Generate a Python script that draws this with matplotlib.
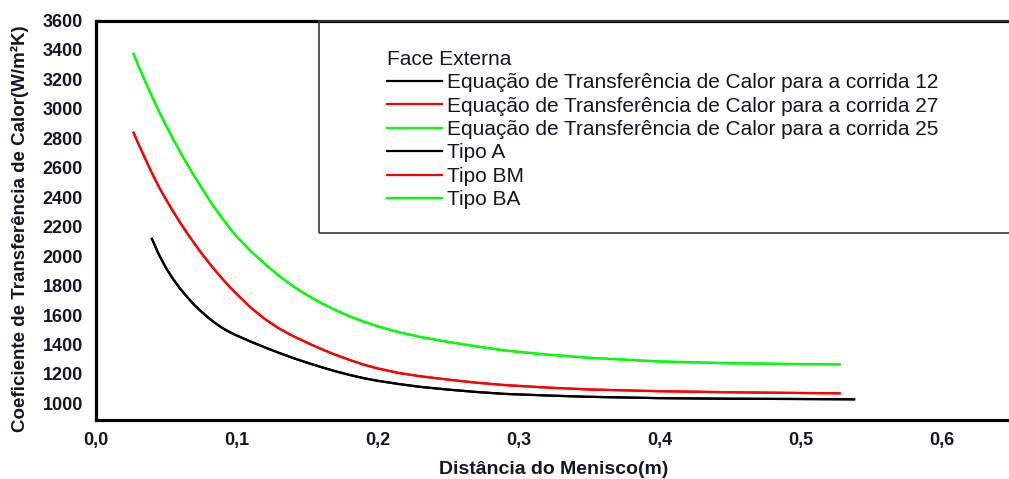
import matplotlib
matplotlib.use('Agg')
import matplotlib.pyplot as plt
from matplotlib.patches import Rectangle
from matplotlib.ticker import FuncFormatter, MultipleLocator

# ---- data ----
dist_a = [0.040, 0.045, 0.050, 0.055, 0.060, 0.065, 0.070, 0.075, 0.080, 0.085,
          0.090, 0.095, 0.100, 0.110, 0.120, 0.130, 0.140, 0.150, 0.160, 0.170,
          0.180, 0.190, 0.200, 0.215, 0.230, 0.250, 0.270, 0.290, 0.320, 0.350,
          0.400, 0.450, 0.500, 0.538]
h_a = [2118, 2010, 1920, 1845, 1780, 1722, 1670, 1624, 1582, 1545,
       1512, 1485, 1462, 1420, 1381, 1344, 1309, 1277, 1247, 1219,
       1194, 1172, 1154, 1132, 1113, 1094, 1078, 1065, 1054, 1045,
       1036, 1032, 1030, 1028]

dist_bm = [0.027, 0.030, 0.035, 0.040, 0.045, 0.050, 0.055, 0.060, 0.065, 0.070,
           0.075, 0.080, 0.085, 0.090, 0.095, 0.100, 0.110, 0.120, 0.130, 0.140,
           0.150, 0.160, 0.170, 0.180, 0.190, 0.200, 0.215, 0.230, 0.250, 0.270,
           0.290, 0.320, 0.350, 0.400, 0.450, 0.500, 0.5277]
h_bm = [2838, 2772, 2667, 2565, 2470, 2385, 2305, 2228, 2156, 2088,
        2022, 1960, 1902, 1846, 1793, 1744, 1652, 1574, 1510, 1458,
        1413, 1370, 1331, 1296, 1264, 1238, 1207, 1185, 1162, 1141,
        1125, 1108, 1095, 1083, 1076, 1071, 1069]

dist_ba = [0.027, 0.030, 0.035, 0.040, 0.045, 0.050, 0.055, 0.060, 0.065, 0.070,
           0.075, 0.080, 0.085, 0.090, 0.095, 0.100, 0.110, 0.120, 0.130, 0.140,
           0.150, 0.160, 0.170, 0.180, 0.190, 0.200, 0.215, 0.230, 0.250, 0.270,
           0.290, 0.320, 0.350, 0.400, 0.450, 0.500, 0.5277]
h_ba = [3373, 3303, 3192, 3085, 2983, 2887, 2796, 2708, 2624, 2545,
        2468, 2393, 2322, 2255, 2193, 2135, 2035, 1948, 1868, 1797,
        1736, 1682, 1635, 1593, 1556, 1524, 1484, 1452, 1418, 1388,
        1360, 1332, 1310, 1285, 1273, 1267, 1265]

eq_labels = ["Equação de Transferência de Calor para a corrida 12",
             "Equação de Transferência de Calor para a corrida 27",
             "Equação de Transferência de Calor para a corrida 25"]
tipo_labels = ["Tipo A", "Tipo BM", "Tipo BA"]
legend_title = "Face Externa"
x_label = "Distância do Menisco(m)"
y_label = "Coeficiente de Transferência de Calor(W/m²K)"

colors = ["#000000", "#ff0000", "#00ff00"]

plt.rcParams['font.family'] = ['Liberation Sans', 'DejaVu Sans']

W, H = 1009, 479
fig = plt.figure(figsize=(W / 100, H / 100), dpi=100)
L, R, T, B = 95.5, 1009, 20.5, 419.5
ax = fig.add_axes([L / W, 1 - B / H, (R - L) / W, (B - T) / H])

series = [(dist_a, h_a), (dist_bm, h_bm), (dist_ba, h_ba)]
eq_lines, tipo_lines = [], []
for (xs, ys), c, lab in zip(series, colors, eq_labels):
    ln, = ax.plot(xs, ys, color=c, lw=1.6, label=lab, solid_joinstyle='round')
    eq_lines.append(ln)
for (xs, ys), c, lab in zip(series, colors, tipo_labels):
    ln, = ax.plot(xs, ys, color=c, lw=1.6, label=lab, solid_joinstyle='round')
    tipo_lines.append(ln)

ax.set_xlim(0, (R - L) / 1410.0)
ax.set_ylim(891, 3600)
ax.xaxis.set_major_locator(MultipleLocator(0.1))
ax.xaxis.set_major_formatter(FuncFormatter(lambda v, p: f"{v:.1f}".replace('.', ',')))
ax.yaxis.set_major_formatter(FuncFormatter(lambda v, p: f"{int(round(v))}"))
ax.set_yticks([1000 + 200 * i for i in range(14)])

tick_color = '#14142a'
ax.tick_params(axis='both', length=0, labelsize=13, colors=tick_color)
ax.tick_params(axis='y', pad=9)
ax.tick_params(axis='x', pad=9)
for t in ax.get_xticklabels() + ax.get_yticklabels():
    t.set_fontweight('bold')

for s in ['left', 'top', 'bottom']:
    ax.spines[s].set_linewidth(2.3)
    ax.spines[s].set_color('black')
ax.spines['right'].set_visible(False)

ax.set_xlabel(x_label, fontsize=14, fontweight='bold', color=tick_color)
ax.xaxis.set_label_coords((554 - L) / (R - L), -(470 - B) / (B - T))
ax.xaxis.label.set_va('center')
ax.set_ylabel(y_label, fontsize=13.5, fontweight='bold', color=tick_color)
ax.yaxis.set_label_coords((20 - L) / (R - L), (B - 229) / (B - T))
ax.yaxis.label.set_va('center')

# legend box
fig.add_artist(Rectangle((318.5 / W, 1 - 233 / H), (1020 - 318.5) / W, (233 - 21) / H,
                         transform=fig.transFigure, fill=False, ec='#3a3a3a', lw=1.2))

leg = ax.legend(eq_lines + tipo_lines, eq_labels + tipo_labels, title=legend_title,
                loc='upper left', bbox_to_anchor=(387 / W, 1 - 50 / H),
                bbox_transform=fig.transFigure, frameon=False, fontsize=15,
                title_fontsize=15, handlelength=2.65, handletextpad=0.25,
                labelspacing=0.21, borderpad=0, borderaxespad=0, alignment='left')
for t in leg.get_texts():
    t.set_color(tick_color)
leg.get_title().set_color(tick_color)

fig.savefig('out.png', dpi=100)
